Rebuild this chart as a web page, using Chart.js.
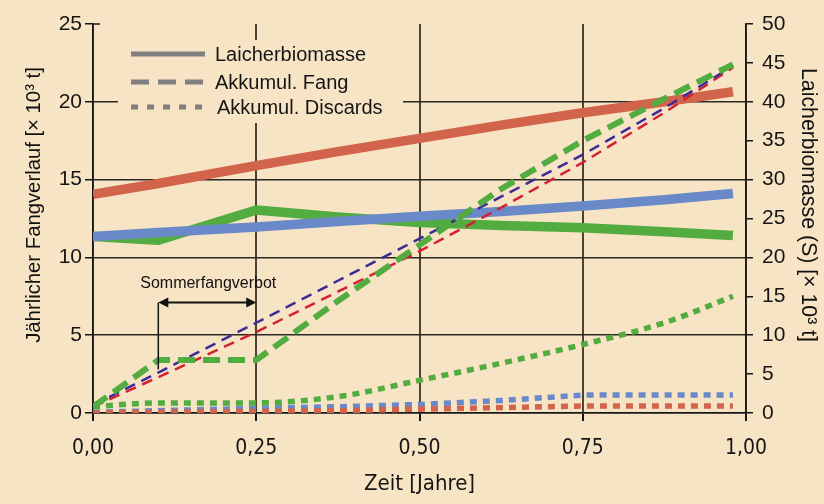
<!DOCTYPE html>
<html lang="de">
<head>
<meta charset="utf-8">
<title>Fangverlauf</title>
<script src="https://cdn.jsdelivr.net/npm/chart.js@4.4.1/dist/chart.umd.min.js"></script>
<style>
  html, body { margin: 0; padding: 0; background: #f7e4c5; }
  #wrap { width: 824px; height: 504px; }
</style>
</head>
<body>
<div id="wrap"><canvas id="fangChart" width="824" height="504"></canvas></div>
<script>
// --- Daten (Zeit in Jahren) ---
const zeit = [0, 0.1, 0.25, 0.375, 0.5, 0.625, 0.75, 0.875, 0.98];

// Laicherbiomasse (rechte Achse, x 10^3 t)
const biomasseRot   = [28.1, 29.5, 31.8, 33.6, 35.3, 37.0, 38.6, 40.0, 41.3];
const biomasseBlau  = [22.7, 23.2, 23.9, 24.6, 25.3, 25.9, 26.6, 27.4, 28.2];
const biomasseGruen = [22.7, 22.2, 26.1, 25.2, 24.5, 24.1, 23.8, 23.3, 22.8];

// Akkumulierter Fang (linke Achse)
const fangGruen = [0.4, 3.4, 3.4, 7.2, 10.8, 14.4, 17.5, 20.2, 22.4];
const fangBlau  = [0.5, 2.6, 5.8, 8.5, 11.2, 13.9, 16.6, 19.6, 22.3];
const fangRot   = [0.4, 2.3, 5.2, 7.8, 10.4, 13.2, 16.1, 19.3, 22.2];

// Akkumulierte Discards (linke Achse)
const discardsGruen = [0.4, 0.65, 0.65, 1.05, 2.1, 3.2, 4.4, 5.8, 7.5];
const discardsBlau  = [0.05, 0.15, 0.3, 0.4, 0.55, 0.8, 1.15, 1.15, 1.15];
const discardsRot   = [0.0, 0.05, 0.1, 0.15, 0.25, 0.35, 0.45, 0.45, 0.45];

// Achsen
const xTicks = [0, 0.25, 0.5, 0.75, 1];
const yLinksMax = 25;
const yRechtsMax = 50;

// Annotation "Sommerfangverbot"
const verbotStart = 0.1;
const verbotEnde = 0.25;
const verbotPfeilY = 7.1;
const verbotTextY = 8.3;
const verbotLinieBis = 2.8;

const legendeEintraege = ['Laicherbiomasse', 'Akkumul. Fang', 'Akkumul. Discards'];

// --- Farben ---
const bg = '#f7e4c5';
const rot = '#d2644b';
const blau = '#6a89c8';
const gruen = '#52ac40';
const navy = '#3c2b96';
const rotDunkel = '#d42132';

const pts = (ys) => zeit.map((x, i) => ({ x: x, y: ys[i] }));

Chart.defaults.font.family = "'Liberation Sans', Arial, sans-serif";
Chart.defaults.color = '#151515';

const extras = {
    id: 'extras',
    beforeDraw(chart) {
        const ctx = chart.ctx;
        ctx.save();
        ctx.fillStyle = bg;
        ctx.fillRect(0, 0, chart.width, chart.height);
        ctx.restore();
    },
    beforeDatasetsDraw(chart) {
        // Legende mit Hintergrund (deckt Gitter ab)
        const { ctx, chartArea: a } = chart;
        const bx = a.left + 25, by = a.top + 16;
        ctx.save();
        ctx.fillStyle = bg;
        ctx.fillRect(bx, by, 285, 83);

        // kurzer Innen-Tick oben an der linken Achse
        ctx.strokeStyle = '#151515';
        ctx.lineWidth = 1.5;
        ctx.beginPath();
        ctx.moveTo(a.left, a.top);
        ctx.lineTo(a.left + 7, a.top);
        ctx.stroke();

        const styles = [[], [18, 9], [7, 9]];
        const rows = [a.top + 30, a.top + 58, a.top + 83];
        ctx.strokeStyle = '#7f7f7f';
        ctx.lineWidth = 5;
        ctx.lineCap = 'butt';
        rows.forEach((y, i) => {
            ctx.setLineDash(styles[i]);
            ctx.beginPath();
            ctx.moveTo(a.left + 38, y);
            ctx.lineTo(a.left + 112, y);
            ctx.stroke();
        });
        ctx.setLineDash([]);
        ctx.fillStyle = '#151515';
        ctx.font = "20px 'Liberation Sans', Arial, sans-serif";
        ctx.textBaseline = 'middle';
        ctx.textAlign = 'left';
        legendeEintraege.forEach((t, i) => {
            ctx.fillText(t, a.left + 122 + (i === 2 ? 2 : 0), rows[i] + 1);
        });
        ctx.restore();
    },
    afterDatasetsDraw(chart) {
        const { ctx } = chart;
        const xs = chart.scales.x, ys = chart.scales.y;
        const x1 = xs.getPixelForValue(verbotStart);
        const x2 = xs.getPixelForValue(verbotEnde);
        const yp = ys.getPixelForValue(verbotPfeilY);

        ctx.save();
        ctx.strokeStyle = '#111';
        ctx.fillStyle = '#111';
        ctx.lineWidth = 1.5;
        // senkrechte Linie
        ctx.beginPath();
        ctx.moveTo(x1, yp);
        ctx.lineTo(x1, ys.getPixelForValue(verbotLinieBis));
        ctx.stroke();
        // Doppelpfeil
        ctx.lineWidth = 2;
        ctx.beginPath();
        ctx.moveTo(x1 + 6, yp);
        ctx.lineTo(x2 - 6, yp);
        ctx.stroke();
        [[x1, 1], [x2, -1]].forEach(([x, d]) => {
            ctx.beginPath();
            ctx.moveTo(x, yp);
            ctx.lineTo(x + d * 10, yp - 5);
            ctx.lineTo(x + d * 10, yp + 5);
            ctx.closePath();
            ctx.fill();
        });
        ctx.font = "16px 'Liberation Sans', Arial, sans-serif";
        ctx.textAlign = 'center';
        ctx.textBaseline = 'middle';
        ctx.fillText('Sommerfangverbot', (x1 + x2) / 2 + 1, ys.getPixelForValue(verbotTextY));

        // Achsentitel
        ctx.save();
        ctx.font = "20.3px 'Liberation Sans', Arial, sans-serif";
        ctx.translate(34, 205);
        ctx.rotate(-Math.PI / 2);
        ctx.fillText('Jährlicher Fangverlauf [× 10³ t]', 0, 0);
        ctx.restore();
        ctx.save();
        ctx.font = "21.3px 'Liberation Sans', Arial, sans-serif";
        ctx.translate(chart.width - 16, 205);
        ctx.rotate(Math.PI / 2);
        ctx.fillText('Laicherbiomasse (S) [× 10³ t]', 0, 0);
        ctx.restore();
        ctx.restore();
    }
};

const thin = { borderWidth: 2.5, borderDash: [11, 7], pointRadius: 0, tension: 0, yAxisID: 'y' };
const dotted = { borderWidth: 5.5, borderDash: [7, 6], borderCapStyle: 'butt', pointRadius: 0, yAxisID: 'y' };
const solid = { borderWidth: 9.5, pointRadius: 0, tension: 0, yAxisID: 'y2', borderJoinStyle: 'round' };

new Chart(document.getElementById('fangChart'), {
    type: 'line',
    data: {
        datasets: [
            { label: 'Fang grün', data: pts(fangGruen), borderColor: gruen, borderWidth: 6,
              borderDash: [17, 8], pointRadius: 0, tension: 0, yAxisID: 'y' },
            Object.assign({ label: 'Fang blau', data: pts(fangBlau), borderColor: navy }, thin),
            Object.assign({ label: 'Fang rot', data: pts(fangRot), borderColor: rotDunkel }, thin),
            Object.assign({ label: 'Discards grün', data: pts(discardsGruen), borderColor: gruen,
              cubicInterpolationMode: 'monotone' }, dotted),
            Object.assign({ label: 'Discards rot', data: pts(discardsRot), borderColor: rot, tension: 0 }, dotted),
            Object.assign({ label: 'Discards blau', data: pts(discardsBlau), borderColor: blau, tension: 0 }, dotted),
            Object.assign({ label: 'Biomasse blau', data: pts(biomasseBlau), borderColor: blau }, solid),
            Object.assign({ label: 'Biomasse grün', data: pts(biomasseGruen), borderColor: gruen }, solid),
            Object.assign({ label: 'Biomasse rot', data: pts(biomasseRot), borderColor: rot }, solid)
        ]
    },
    options: {
        responsive: false,
        animation: false,
        layout: { padding: { top: 24, left: 0, right: 0, bottom: 0 } },
        plugins: { legend: { display: false }, tooltip: { enabled: false } },
        scales: {
            x: {
                type: 'linear',
                min: 0,
                max: 1,
                afterFit: (s) => { s.height = 91; },
                afterBuildTicks: (s) => { s.ticks = xTicks.map(v => ({ value: v })); },
                ticks: {
                    padding: 15,
                    font: { size: 21, family: "'Liberation Sans Narrow', 'DejaVu Sans Condensed', 'Liberation Sans', sans-serif" },
                    callback: (v) => v.toFixed(2).replace('.', ',')
                },
                grid: { color: '#4a4234', lineWidth: 2, tickColor: '#151515', tickLength: 8 },
                border: { color: '#151515', width: 1.5 },
                title: {
                    display: true,
                    text: 'Zeit [Jahre]',
                    font: { size: 22, family: "'Liberation Sans Narrow', 'DejaVu Sans Condensed', 'Liberation Sans', sans-serif" },
                    padding: { top: 0, bottom: 7 }
                }
            },
            y: {
                position: 'left',
                min: 0,
                max: yLinksMax,
                afterFit: (s) => { s.width = 93; },
                ticks: { stepSize: 5, padding: 3, font: { size: 21 } },
                grid: {
                    color: (c) => (c.tick && c.tick.value === yLinksMax) ? 'rgba(0,0,0,0)' : '#2b2824',
                    lineWidth: 1.5,
                    tickColor: '#151515',
                    tickLength: 8
                },
                border: { color: '#151515', width: 1.5 }
            },
            y2: {
                position: 'right',
                min: 0,
                max: yRechtsMax,
                afterFit: (s) => { s.width = 78; },
                ticks: { stepSize: 5, padding: 9, font: { size: 21 } },
                grid: { drawOnChartArea: false, tickColor: '#151515', tickLength: 7, lineWidth: 1.5 },
                border: { color: '#151515', width: 1.5 }
            }
        }
    },
    plugins: [extras]
});
</script>
</body>
</html>
